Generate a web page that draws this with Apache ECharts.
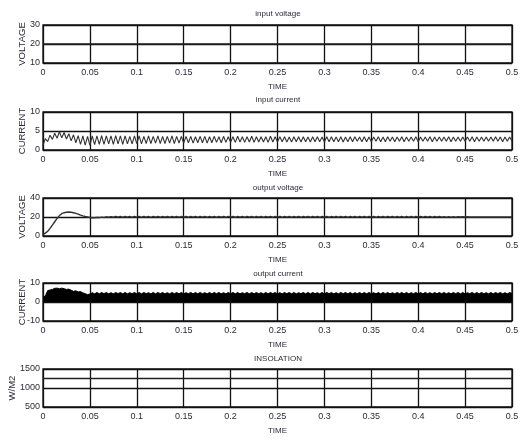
<!DOCTYPE html>
<html><head><meta charset="utf-8">
<script src="https://cdn.jsdelivr.net/npm/echarts@6/dist/echarts.min.js"></script>
<style>html,body{margin:0;padding:0;background:#fff}#c{width:520px;height:440px}</style>
</head><body><div id="c"></div>
<script>
// ---- data (time step 0.0025 s) ----
const DT = 0.0025;
const xTicks = [0, 0.05, 0.1, 0.15, 0.2, 0.25, 0.3, 0.35, 0.4, 0.45, 0.5];
const titles = ['input voltage', 'input current', 'output voltage', 'output current', 'INSOLATION'];
const yNames = ['VOLTAGE', 'CURRENT', 'VOLTAGE', 'CURRENT', 'W/M2'];
const yMin = [10, 0, 0, -10, 500];
const yMax = [30, 10, 40, 10, 1500];
const yStep = [10, 5, 20, 10, 500];

const vInTime = [0, 0.5];
const vIn = [20, 20];

const insTime = [0, 0.5];
const insolation = [1250, 1250];

// input current: troughs at t = 0.005k, peaks at t = 0.0025 + 0.005k
const iinTroughs = [
 1.2,2.2,2.8,3.1,3.2,2.9,2.4,1.9,1.5,1.3,
 1.2,1.4,1.5,1.5,1.6,1.5,1.6,1.5,1.6,1.6,
 1.7,1.6,1.7,1.7,1.8,1.7,1.7,1.8,1.7,1.8,
 1.8,1.9,1.8,1.9,1.9,1.8,1.9,2.0,1.9,2.0,
 2.0,2.0,2.1,2.0,2.1,2.0,2.1,2.1,2.0,2.1,
 2.1,2.2,2.1,2.1,2.2,2.1,2.2,2.1,2.2,2.2,
 2.1,2.2,2.2,2.2,2.1,2.2,2.2,2.3,2.2,2.2,
 2.2,2.3,2.2,2.2,2.3,2.2,2.3,2.2,2.3,2.3,
 2.2,2.3,2.3,2.2,2.3,2.3,2.3,2.2,2.3,2.3,
 2.3,2.3,2.2,2.3,2.3,2.3,2.3,2.3,2.2,2.3,
 2.3];
const iinPeaks = [
 3.0,3.9,4.4,4.8,4.6,4.3,4.0,3.8,3.7,3.6,
 3.7,3.7,3.8,3.7,3.7,3.8,3.7,3.7,3.6,3.7,
 3.7,3.6,3.7,3.6,3.7,3.6,3.6,3.7,3.6,3.6,
 3.6,3.6,3.5,3.6,3.6,3.5,3.6,3.5,3.6,3.5,
 3.5,3.6,3.5,3.5,3.6,3.5,3.5,3.5,3.6,3.5,
 3.5,3.5,3.4,3.5,3.5,3.5,3.4,3.5,3.5,3.4,
 3.5,3.5,3.4,3.5,3.4,3.5,3.5,3.4,3.5,3.4,
 3.4,3.5,3.4,3.5,3.4,3.4,3.5,3.4,3.4,3.5,
 3.4,3.4,3.5,3.4,3.4,3.4,3.5,3.4,3.4,3.4,
 3.4,3.5,3.4,3.4,3.4,3.4,3.5,3.4,3.4,3.4];

// output voltage, one value per 0.0025 s
const vOut = [
 1.5,3,5,8,11.5,15,18.5,21.5,23.5,24.5,
 25,25.2,25,24.5,23.8,23,22,21.2,20.5,20,
 19.5,19.2,19.2,19.6,19.4,19.9,19.6,20.2,19.7,20.4,
 19.7,20.5,19.8,20.6,19.7,20.5,19.8,20.6,19.7,20.5,
 19.8,20.6,19.7,20.5,19.8,20.6,19.7,20.6,19.8,20.5,
 19.7,20.6,19.8,20.5,19.7,20.6,19.8,20.5,19.7,20.6,
 19.8,20.5,19.7,20.6,19.8,20.5,19.7,20.6,19.8,20.5,
 19.7,20.6,19.8,20.5,19.7,20.6,19.8,20.5,19.7,20.6,
 19.8,20.5,19.7,20.6,19.8,20.5,19.7,20.6,19.8,20.5,
 19.7,20.6,19.8,20.5,19.7,20.6,19.8,20.5,19.7,20.6,
 19.8,20.5,19.7,20.6,19.8,20.5,19.7,20.6,19.8,20.5,
 19.7,20.6,19.8,20.5,19.7,20.6,19.8,20.5,19.7,20.6,
 19.8,20.5,19.7,20.6,19.8,20.5,19.7,20.6,19.8,20.5,
 19.7,20.6,19.8,20.5,19.7,20.6,19.8,20.5,19.7,20.6,
 19.8,20.5,19.7,20.6,19.8,20.5,19.7,20.6,19.8,20.5,
 19.7,20.6,19.8,20.5,19.7,20.6,19.8,20.5,19.7,20.6,
 19.8,20.5,19.7,20.6,19.8,20.5,19.7,20.6,19.8,20.5,
 19.9,20.3,19.9,20.3,19.9,20.3,19.9,20.2,20.0,20.2,
 20.0,20.2,20.0,20.1,20.0,20.1,20.0,20.1,20.0,20.1,
 20.0,20.1,20.0,20.1,20.0,20.1,20.0,20.1,20.0,20.1,
 20.0];

// output current: upper edge of the dense ripple band (band fills down to 0)
const iOutUpper = [
 2.5,3.2,6.0,6.3,6.6,7.2,7.3,7.0,7.3,7.0,
 6.6,6.8,6.2,5.6,5.9,5.3,5.5,4.8,4.4,3.9,
 4.2,4.9,4.3,5.0,4.3,5.0,4.4,5.0,4.3,4.9,
 4.3,5.0,4.4,5.0,4.3,5.0,4.3,4.9,4.4,5.0,
 4.3,5.0,4.3,5.0,4.4,4.9,4.3,5.0,4.3,5.0,
 4.4,5.0,4.3,4.9,4.3,5.0,4.4,5.0,4.3,5.0,
 4.3,4.9,4.4,5.0,4.3,5.0,4.3,5.0,4.4,4.9,
 4.3,5.0,4.3,5.0,4.4,5.0,4.3,4.9,4.3,5.0,
 4.4,5.0,4.3,5.0,4.3,4.9,4.4,5.0,4.3,5.0,
 4.3,5.0,4.4,4.9,4.3,5.0,4.3,5.0,4.4,5.0,
 4.3,4.9,4.3,5.0,4.4,5.0,4.3,5.0,4.3,4.9,
 4.4,5.0,4.3,5.0,4.3,5.0,4.4,4.9,4.3,5.0,
 4.3,5.0,4.4,5.0,4.3,4.9,4.3,5.0,4.4,5.0,
 4.3,5.0,4.3,4.9,4.4,5.0,4.3,5.0,4.3,5.0,
 4.4,4.9,4.3,5.0,4.3,5.0,4.4,5.0,4.3,4.9,
 4.3,5.0,4.4,5.0,4.3,5.0,4.3,4.9,4.4,5.0,
 4.3,5.0,4.3,5.0,4.4,4.9,4.3,5.0,4.3,5.0,
 4.4,5.0,4.3,4.9,4.3,5.0,4.4,5.0,4.3,5.0,
 4.3,4.9,4.4,5.0,4.3,5.0,4.3,5.0,4.4,4.9,
 4.3,5.0,4.3,5.0,4.4,5.0,4.3,4.9,4.3,5.0,
 4.4];

// ---- build ----
const stepPairs = arr => arr.map((v, i) => [i * DT, v]);
const zipPairs = (ts, vs) => ts.map((t, i) => [t, vs[i]]);
const iinData = [];
for (let k = 0; k < iinTroughs.length; k++) {
  iinData.push([k * 2 * DT, iinTroughs[k]]);
  if (k < iinPeaks.length) iinData.push([(k * 2 + 1) * DT, iinPeaks[k]]);
}

const FONT = 'Liberation Sans, Arial, sans-serif';
const TXT = '#2b2b38';
const LINE = '#111';
const tops = [25, 112, 198, 283, 369];
const titleTops = [10, 96, 184, 270, 355];
const nameGaps = [15.5, 15.5, 15.5, 15.5, 26];

const grids = [], xAxes = [], yAxes = [], titleArr = [];
for (let i = 0; i < 5; i++) {
  grids.push({ left: 43, width: 469, top: tops[i], height: 38, show: true,
    borderColor: LINE, borderWidth: 1.3, backgroundColor: 'transparent',
    containLabel: false, outerBoundsMode: 'none' });
  xAxes.push({ type: 'value', gridIndex: i, min: xTicks[0], max: xTicks[xTicks.length - 1],
    interval: xTicks[1] - xTicks[0],
    name: 'TIME', nameLocation: 'middle', nameGap: 20, nameMoveOverlap: false,
    nameTextStyle: { fontFamily: FONT, fontSize: 8, color: TXT },
    axisLine: { show: false }, axisTick: { show: false },
    axisLabel: { fontFamily: FONT, fontSize: 9, color: TXT, margin: 5,
      formatter: v => String(+v.toFixed(2)) },
    splitLine: { show: true, lineStyle: { color: LINE, width: 1.3 } } });
  yAxes.push({ type: 'value', gridIndex: i, min: yMin[i], max: yMax[i], interval: yStep[i],
    name: yNames[i], nameLocation: 'middle', nameGap: nameGaps[i], nameRotate: 90,
    nameMoveOverlap: false,
    nameTextStyle: { fontFamily: FONT, fontSize: 9.5, color: TXT },
    axisLine: { show: false }, axisTick: { show: false },
    axisLabel: { fontFamily: FONT, fontSize: 9, color: TXT, margin: 3,
      formatter: v => String(v) },
    splitLine: { show: true, lineStyle: { color: LINE, width: 1.3 } } });
  titleArr.push({ text: titles[i], left: 278, textAlign: 'center', top: titleTops[i], padding: 0,
    textStyle: { fontFamily: FONT, fontSize: 8, fontWeight: 'normal', color: TXT } });
}

const lineBase = { type: 'line', symbol: 'none', animation: false, silent: true };
const series = [
  Object.assign({}, lineBase, { xAxisIndex: 0, yAxisIndex: 0, data: zipPairs(vInTime, vIn),
    lineStyle: { color: '#222', width: 1.6 } }),
  Object.assign({}, lineBase, { xAxisIndex: 1, yAxisIndex: 1, data: iinData,
    lineStyle: { color: '#333', width: 1.1 } }),
  Object.assign({}, lineBase, { xAxisIndex: 2, yAxisIndex: 2, data: stepPairs(vOut),
    lineStyle: { color: '#333', width: 1.4 } }),
  Object.assign({}, lineBase, { xAxisIndex: 3, yAxisIndex: 3, data: stepPairs(iOutUpper),
    lineStyle: { color: '#000', width: 1 },
    areaStyle: { color: '#000', opacity: 1, origin: 0 } }),
  Object.assign({}, lineBase, { xAxisIndex: 4, yAxisIndex: 4, data: zipPairs(insTime, insolation),
    lineStyle: { color: '#222', width: 1.3 } })
];

const chart = echarts.init(document.getElementById('c'), null, { renderer: 'canvas' });
chart.setOption({ backgroundColor: '#fff', animation: false, title: titleArr,
  grid: grids, xAxis: xAxes, yAxis: yAxes, series: series });
</script></body></html>
